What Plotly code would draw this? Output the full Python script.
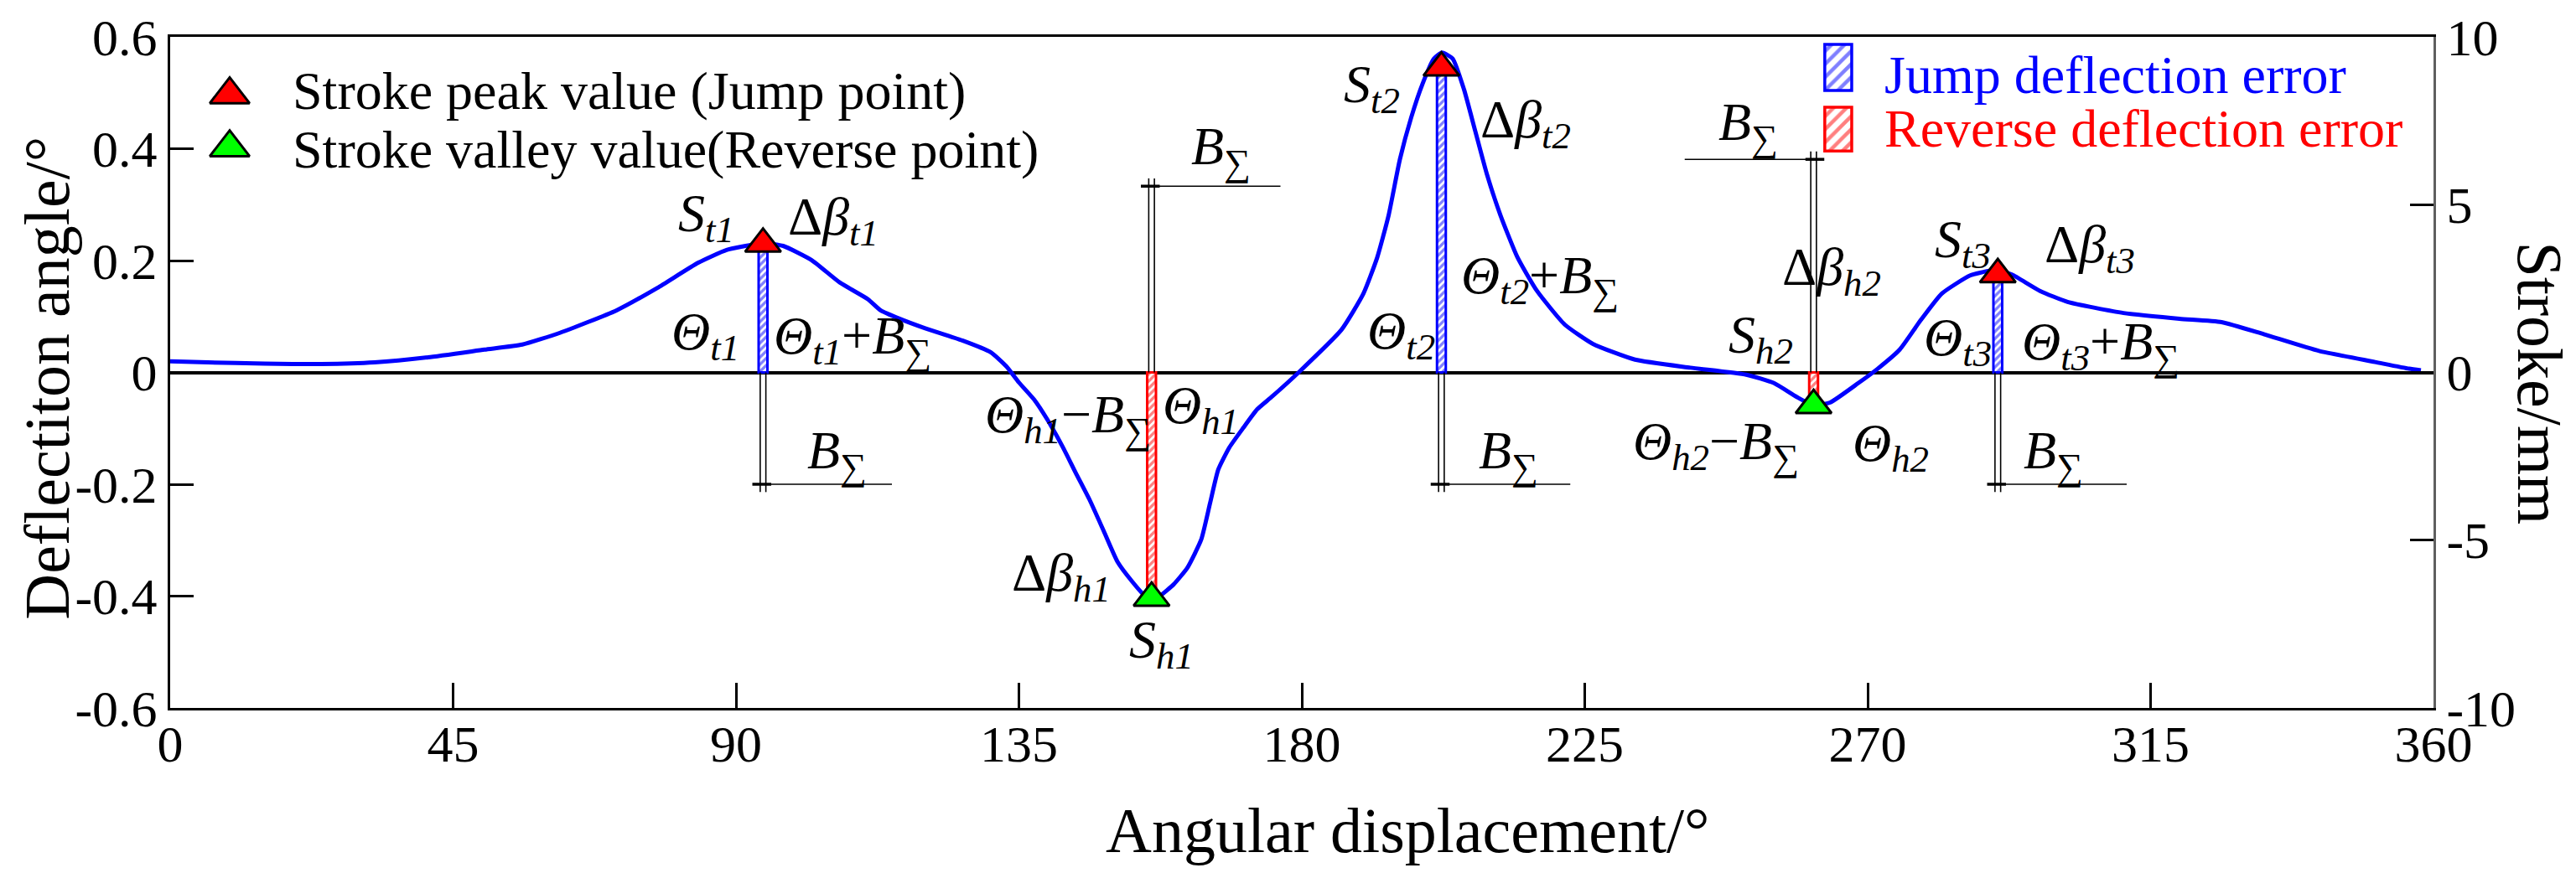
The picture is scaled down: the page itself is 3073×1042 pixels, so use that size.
import plotly.graph_objects as go

# stroke curve (deg, mm on the right axis)
angle = [0, 6, 15, 24, 32.5, 41, 50, 56, 62, 71,
         77.5, 84, 88.5, 93, 94.5, 97.5, 102, 106.5, 111, 113,
         116, 120, 126, 130.5, 133, 135, 137.5, 139.5, 142, 144,
         146.3, 148.5, 150.7, 153, 155, 156.2, 157.5, 159.6, 161.8, 164,
         165.4, 166.7, 168.5, 170.7, 172.9, 175.2, 179.6, 186.3, 189.8, 192,
         193.8, 195.6, 197.4, 199.2, 201, 202.3, 204, 205.8, 207.6, 209.4,
         211.6, 214.3, 217.4, 221.8, 226.3, 233, 241.8, 250.7, 255.1, 258.7,
         261.4, 264, 268.5, 271.6, 275.1, 278.3, 281.8, 286.3, 289.4, 290.7,
         292.9, 297.4, 301.8, 310.7, 319.6, 326.3, 333, 341.8, 350.7, 356.1,
         358]
stroke = [0.33, 0.30, 0.26, 0.25, 0.30, 0.45, 0.68, 0.83, 1.18, 1.85,
          2.52, 3.27, 3.65, 3.82, 3.85, 3.77, 3.35, 2.68, 2.18, 1.85,
          1.60, 1.32, 0.95, 0.60, 0.18, -0.30, -0.83, -1.40, -2.23, -2.98,
          -3.82, -4.73, -5.65, -6.23, -6.65, -6.75, -6.65, -6.32, -5.82, -4.98,
          -3.90, -2.90, -2.23, -1.65, -1.10, -0.73, 0.02, 1.27, 2.35, 3.43,
          4.68, 6.35, 7.60, 8.60, 9.35, 9.53, 9.35, 8.43, 7.18, 5.93,
          4.68, 3.43, 2.43, 1.43, 0.85, 0.38, 0.14, -0.07, -0.32, -0.73,
          -0.98, -0.90, -0.32, 0.11, 0.68, 1.52, 2.35, 2.89, 3.03, 3.05,
          2.92, 2.43, 2.10, 1.77, 1.60, 1.50, 1.14, 0.64, 0.31, 0.11,
          0.06]

# jump points (stroke peaks) and reverse points (stroke valleys)
peak_angle = [94.3, 202.2, 290.7]
peak_stroke = [3.83, 9.08, 2.92]
valley_angle = [156.1, 261.4]
valley_stroke = [-6.72, -0.98]

# deflection errors (deg, left axis)
jump_error = [0.23, 0.545, 0.175]
reverse_error = [-0.403, -0.059]

x_ticks = [0, 45, 90, 135, 180, 225, 270, 315, 360]
y_ticks = [-0.6, -0.4, -0.2, 0, 0.2, 0.4, 0.6]
y_tick_text = ["-0.6", "-0.4", "-0.2", "0", "0.2", "0.4", "0.6"]
stroke_ticks = [-10, -5, 0, 5, 10]
stroke_tick_text = ["-10", "-5", "0", "5", "10"]

FONT = "Liberation Serif, Times New Roman, serif"
BLUE, RED, GREEN = "#0000ff", "#ff0000", "#00ff00"


def hatched(color, size, edge=3, solidity=0.55):
    return dict(color="white", line=dict(color=color, width=edge),
                pattern=dict(shape="/", fgcolor=color, bgcolor="white",
                             size=size, solidity=solidity, fillmode="overlay"))


fig = go.Figure()

# error bars between the zero line and the extreme points
fig.add_trace(go.Bar(x=peak_angle, y=jump_error, width=1.4, marker=hatched(BLUE, 6)))
fig.add_trace(go.Bar(x=valley_angle, y=reverse_error, width=1.4, marker=hatched(RED, 6)))

fig.add_trace(go.Scatter(x=angle, y=stroke, yaxis="y2", mode="lines",
                         line=dict(color=BLUE, width=5, shape="spline", smoothing=0.5)))

tri = dict(symbol="triangle-up", size=37, line=dict(color="black", width=3))
fig.add_trace(go.Scatter(x=peak_angle, y=peak_stroke, yaxis="y2", mode="markers",
                         marker=dict(tri, color=RED)))
fig.add_trace(go.Scatter(x=valley_angle, y=valley_stroke, yaxis="y2", mode="markers",
                         marker=dict(tri, color=GREEN)))

# dimension lines (double line + leader) marking B_sum at every extreme point
dims = [(peak_angle[0], -0.2, 1), (valley_angle[0], 0.333, 1), (peak_angle[1], -0.2, 1),
        (valley_angle[1], 0.381, -1), (peak_angle[2], -0.2, 1)]
for x0, end, side in dims:
    over = 0.014 if end > 0 else -0.014
    for dx in (-0.45, 0.45):
        fig.add_shape(type="line", x0=x0 + dx, x1=x0 + dx, y0=0, y1=end + over,
                      line=dict(color="black", width=1.6))
    fig.add_shape(type="line", x0=x0 - 1.5 * side, x1=x0 + 20.5 * side, y0=end, y1=end,
                  line=dict(color="black", width=1.6))
    fig.add_shape(type="line", x0=x0 - 1.7 * side, x1=x0 + 1.3 * side, y0=end, y1=end,
                  line=dict(color="black", width=3.5))

B = "<i>B</i><sub>∑</sub>"
labels = [
    ("<i>S</i><sub><i>t1</i></sub>", 85.3, 0.2775),
    ("Δ<i>β</i><sub><i>t1</i></sub>", 105.5, 0.2715),
    ("<i>Θ</i><sub><i>t1</i></sub>", 85.1, 0.066),
    ("<i>Θ</i><sub><i>t1</i></sub>+" + B, 108.5, 0.0585),
    (B, 106, -0.1455),
    ("<i>Θ</i><sub><i>h1</i></sub>−" + B, 142.8, -0.081),
    ("<i>Θ</i><sub><i>h1</i></sub>", 163.9, -0.065),
    ("Δ<i>β</i><sub><i>h1</i></sub>", 141.7, -0.365),
    ("<i>S</i><sub><i>h1</i></sub>", 157.7, -0.485),
    (B, 167.1, 0.398),
    ("<i>S</i><sub><i>t2</i></sub>", 191.1, 0.5085),
    ("Δ<i>β</i><sub><i>t2</i></sub>", 215.6, 0.446),
    ("<i>Θ</i><sub><i>t2</i></sub>+" + B, 217.9, 0.167),
    ("<i>Θ</i><sub><i>t2</i></sub>", 195.8, 0.0675),
    (B, 212.9, -0.1455),
    ("Δ<i>β</i><sub><i>h2</i></sub>", 264.3, 0.1815),
    ("<i>S</i><sub><i>h2</i></sub>", 253, 0.06),
    ("<i>Θ</i><sub><i>h2</i></sub>−" + B, 245.9, -0.13),
    ("<i>Θ</i><sub><i>h2</i></sub>", 273.6, -0.133),
    (B, 251, 0.441),
    ("<i>S</i><sub><i>t3</i></sub>", 285.1, 0.231),
    ("Δ<i>β</i><sub><i>t3</i></sub>", 305.3, 0.222),
    ("<i>Θ</i><sub><i>t3</i></sub>", 284.3, 0.056),
    ("<i>Θ</i><sub><i>t3</i></sub>+" + B, 307.1, 0.0485),
    (B, 299.5, -0.1455),
]
for text, x, y in labels:
    fig.add_annotation(x=x, y=y, xref="x", yref="y", text=text, showarrow=False,
                       xanchor="center", yanchor="middle",
                       font=dict(size=64, family=FONT, color="black"))

# legend glyphs on an overlay axis in plot-fraction units
fig.add_trace(go.Scatter(x=[0.0263, 0.0263], y=[0.914, 0.835], xaxis="x3", yaxis="y3",
                         mode="markers",
                         marker=dict(symbol="triangle-up", size=41, color=[RED, GREEN],
                                     line=dict(color="black", width=3))))
fig.add_trace(go.Bar(x=[0.737], y=[0.0687], base=[0.920], width=[0.0119],
                     xaxis="x3", yaxis="y3", marker=hatched(BLUE, 11, 3.5, 0.4)))
fig.add_trace(go.Bar(x=[0.737], y=[0.065], base=[0.830], width=[0.0119],
                     xaxis="x3", yaxis="y3", marker=hatched(RED, 11, 3.5, 0.4)))

legend_text = [
    ("Stroke peak value (Jump point)", 0.0533, 0.920, "black"),
    ("Stroke valley value(Reverse point)", 0.0533, 0.8327, "black"),
    ("Jump deflection error", 0.7567, 0.9426, BLUE),
    ("Reverse deflection error", 0.7567, 0.8633, RED),
]
for text, x, y, c in legend_text:
    fig.add_annotation(x=x, y=y, xref="paper", yref="paper", xanchor="left", yanchor="middle",
                       text=text, showarrow=False, font=dict(size=64, family=FONT, color=c))

# axis titles
titles = [
    ("Angular displacement/°", 0.547, -0.182, 0),
    ("Deflectiton angle/°", -0.0545, 0.492, -90),
    ("Stroke/mm", 1.047, 0.484, 90),
]
for text, x, y, rot in titles:
    fig.add_annotation(x=x, y=y, xref="paper", yref="paper", xanchor="center", yanchor="middle",
                       textangle=rot, text=text, showarrow=False,
                       font=dict(size=76, family=FONT, color="black"))

tick_font = dict(size=62, family=FONT, color="black")
xaxis_cfg = dict(range=[0, 360], tickvals=x_ticks, ticks="inside", ticklen=30, tickwidth=3,
                 tickcolor="black", showline=True, linecolor="black", linewidth=3, mirror=True,
                 showgrid=False, zeroline=False, tickfont=tick_font, automargin=False)
try:
    go.layout.XAxis(ticklabelstandoff=-13)
    xaxis_cfg["ticklabelstandoff"] = -13
except ValueError:
    pass

# the page adds an 8px body margin, so the figure is 8px smaller and shifted back
fig.update_layout(
    width=3065, height=1034,
    margin=dict(l=195, r=170, t=36, b=197),
    plot_bgcolor="white", paper_bgcolor="white",
    showlegend=False, barmode="overlay",
    font=dict(family=FONT, color="black"),
    xaxis=xaxis_cfg,
    yaxis=dict(range=[-0.6, 0.6], tickvals=y_ticks, ticktext=y_tick_text, ticks="inside",
               ticklen=28, tickwidth=3, tickcolor="black", showline=True, linecolor="black",
               linewidth=3, showgrid=False, zeroline=True, zerolinecolor="black",
               zerolinewidth=3.5, tickfont=tick_font, automargin=False),
    yaxis2=dict(range=[-10, 10], overlaying="y", side="right", anchor="x",
                tickvals=stroke_ticks, ticktext=stroke_tick_text, ticks="inside", ticklen=28,
                tickwidth=3, tickcolor="black", showline=True, linecolor="#5f5f5f",
                linewidth=3, showgrid=False, zeroline=False, tickfont=tick_font,
                automargin=False),
    xaxis3=dict(overlaying="x", range=[0, 1], visible=False, anchor="y3"),
    yaxis3=dict(overlaying="y", range=[0, 1], visible=False, anchor="x3"),
)

fig.write_html("out.html")
